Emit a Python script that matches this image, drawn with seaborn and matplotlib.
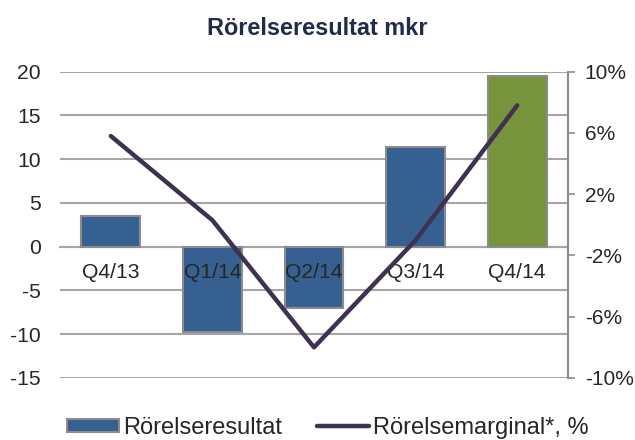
import pandas as pd
import seaborn as sns
import matplotlib.pyplot as plt
from matplotlib.patches import Patch
from matplotlib.lines import Line2D

kvartal = ['Q4/13', 'Q1/14', 'Q2/14', 'Q3/14', 'Q4/14']
resultat = [3.5, -9.8, -7.0, 11.4, 19.5]
marginal = [5.8, 0.3, -8.0, -1.0, 7.8]
farger = ['#36608F', '#36608F', '#36608F', '#36608F', '#77933C']

df = pd.DataFrame({'Kvartal': kvartal, 'Resultat': resultat, 'Marginal': marginal})

sns.set_style('white')
plt.rcParams['font.family'] = ['Liberation Sans', 'DejaVu Sans']
plt.rcParams['axes.unicode_minus'] = False

fig = plt.figure(figsize=(6.35, 4.4), dpi=100)
ax = fig.add_axes([0.0945, 0.141, 0.8, 0.696])

sns.barplot(data=df, x='Kvartal', y='Resultat', hue='Kvartal', palette=farger,
            legend=False, width=0.58, edgecolor='#8C8C8C', linewidth=1.5,
            saturation=1, ax=ax)
ax.set_ylim(-15, 20)
ax.set_yticks(range(-15, 21, 5))
ax.set_xlim(-0.5, 4.5)
ax.yaxis.grid(True, color='#A6A6A6', linewidth=1.5)
ax.set_axisbelow(True)
ax.xaxis.set_zorder(5)  # kategorietiketter ovanpå staplarna
ax.set_xlabel('')
ax.set_ylabel('')
for s in ['left', 'top', 'right']:
    ax.spines[s].set_visible(False)
ax.spines['bottom'].set_position(('data', 0))
ax.spines['bottom'].set_color('#A6A6A6')
ax.spines['bottom'].set_linewidth(1.5)
ax.spines['bottom'].set_zorder(0.5)
ax.tick_params(axis='x', length=0, pad=12, labelsize=15.2)
ax.tick_params(axis='y', length=0, pad=14, labelsize=15.2)

ax2 = ax.twinx()
sns.lineplot(data=df, x='Kvartal', y='Marginal', sort=False, color='#3F3151',
             linewidth=3.2, solid_capstyle='round', ax=ax2)
ax2.set_ylim(-10, 10)
ax2.set_yticks([-10, -6, -2, 2, 6, 10])
ax2.set_yticklabels([f'{v}%' for v in [-10, -6, -2, 2, 6, 10]])
ax2.set_ylabel('')
ax2.set_xlabel('')
for s in ['left', 'top', 'bottom']:
    ax2.spines[s].set_visible(False)
ax2.spines['right'].set_color('#8C8C8C')
ax2.spines['right'].set_linewidth(1.5)
ax2.tick_params(axis='y', length=5, width=1.2, color='#8C8C8C', pad=7, labelsize=15)
ax2.set_xlim(-0.5, 4.5)

fig.text(0.5, 0.92, 'Rörelseresultat mkr', ha='center', va='baseline',
         fontsize=16.9, fontweight='bold', color='#1F2D4A')

handles = [Patch(facecolor='#36608F', edgecolor='#8C8C8C', linewidth=1.5),
           Line2D([0], [0], color='#3F3151', linewidth=3.2, solid_capstyle='round')]
fig.legend(handles, ['Rörelseresultat', 'Rörelsemarginal*, %'], loc='center',
           bbox_to_anchor=(0.516, 0.028), ncol=2, frameon=False, fontsize=17,
           handlelength=2.2, handleheight=0.5, handletextpad=0.17,
           columnspacing=1.5, borderpad=0)

fig.savefig('out.png', dpi=100)
